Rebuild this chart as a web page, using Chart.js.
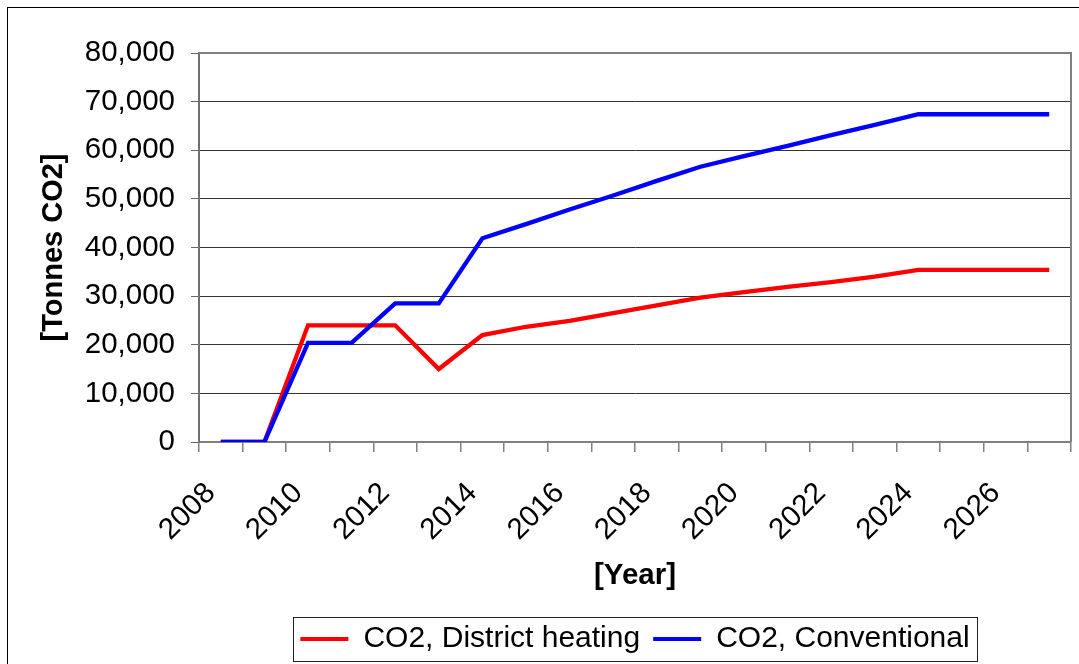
<!DOCTYPE html>
<html>
<head>
<meta charset="utf-8">
<script src="https://cdn.jsdelivr.net/npm/chart.js@4.4.1/dist/chart.umd.min.js"></script>
<style>
  html, body { margin: 0; padding: 0; background: #fff; }
  canvas { display: block; }
</style>
</head>
<body>
<canvas id="co2Chart" width="1079" height="664"></canvas>
<script>
// values (tonnes CO2 per year)
const years = ["2008", "2009", "2010", "2011", "2012", "2013", "2014", "2015", "2016", "2017",
  "2018", "2019", "2020", "2021", "2022", "2023", "2024", "2025", "2026", "2027"];
const districtHeating = [0, 0, 24000, 24000, 24000, 15000, 22000, 23700, 24900, 26500,
  28100, 29700, 30800, 31900, 32900, 34000, 35400, 35400, 35400, 35400];
const conventional = [0, 0, 20400, 20400, 28500, 28500, 41900, 44800, 47800, 50700,
  53700, 56600, 58800, 60900, 63100, 65200, 67400, 67400, 67400, 67400];
const yTicks = [0, 10000, 20000, 30000, 40000, 50000, 60000, 70000, 80000];

Chart.defaults.font.family = "'Liberation Sans', Arial, sans-serif";
Chart.defaults.font.size = 29.5;
Chart.defaults.color = "#000";

// frame of the chart, plot area border and the box round the legend
const framePlugin = {
  id: "frame",
  afterLayout(chart) {
    // centre the legend under the plot area like Excel does
    const legend = chart.legend;
    legend.left = chart.chartArea.left;
    legend.right = chart.chartArea.right;
  },
  beforeDraw(chart) {
    const ctx = chart.ctx;
    ctx.save();
    ctx.strokeStyle = "#000";
    ctx.lineWidth = 1;
    ctx.strokeRect(7.5, 7.5, 1200, 800);
    ctx.restore();
  },
  afterDraw(chart) {
    const { ctx, chartArea } = chart;
    ctx.save();
    ctx.strokeStyle = "#808080";
    ctx.lineWidth = 2;
    ctx.beginPath();
    ctx.moveTo(chartArea.left, chartArea.top);
    ctx.lineTo(chartArea.right, chartArea.top);
    ctx.lineTo(chartArea.right, chartArea.bottom);
    ctx.stroke();

    const boxes = chart.legend.legendHitBoxes;
    if (boxes && boxes.length) {
      const first = boxes[0];
      const last = boxes[boxes.length - 1];
      const x0 = Math.round(first.left - 7) + 0.5;
      const x1 = Math.round(last.left + last.width + 7) + 0.5;
      const y0 = Math.round(first.top - 7.5) + 0.5;
      const y1 = Math.round(first.top + first.height + 7) + 0.5;
      ctx.strokeStyle = "#222";
      ctx.lineWidth = 1;
      ctx.strokeRect(x0, y0, x1 - x0, y1 - y0);
    }
    ctx.restore();
  },
};

const ctx = document.getElementById("co2Chart").getContext("2d");
new Chart(ctx, {
  type: "line",
  data: {
    labels: years,
    datasets: [
      {
        label: "CO2, District heating",
        data: districtHeating,
        borderColor: "#ff0000",
        backgroundColor: "#ff0000",
        borderWidth: 4.3,
        pointRadius: 0,
        tension: 0,
        order: 1,
      },
      {
        label: "CO2, Conventional",
        data: conventional,
        borderColor: "#0000ff",
        backgroundColor: "#0000ff",
        borderWidth: 4.3,
        pointRadius: 0,
        tension: 0,
        order: 0,
      },
    ],
  },
  options: {
    responsive: false,
    animation: false,
    devicePixelRatio: 1,
    layout: {
      padding: { top: 53, right: 8, bottom: 0, left: 0 },
    },
    plugins: {
      tooltip: { enabled: false },
      legend: {
        position: "bottom",
        labels: {
          boxWidth: 48,
          boxHeight: 4,
          padding: 13,
          font: { size: 30 },
          sort: (a, b) => a.datasetIndex - b.datasetIndex,
          generateLabels: (chart) =>
            Chart.defaults.plugins.legend.labels
              .generateLabels(chart)
              .map((item) => ({ ...item, lineWidth: 0 })),
        },
      },
    },
    scales: {
      x: {
        type: "category",
        offset: true,
        grid: {
          offset: true,
          drawOnChartArea: false,
          drawTicks: true,
          tickLength: 10,
          color: "#808080",
          lineWidth: 1.5,
        },
        border: { color: "#808080", width: 2 },
        ticks: {
          autoSkip: false,
          minRotation: 45,
          maxRotation: 45,
          padding: 24,
          labelOffset: -10,
          callback: (value, index) => (index % 2 === 0 ? years[index] : ""),
        },
        title: {
          display: true,
          text: "[Year]",
          font: { size: 29.5, weight: "bold" },
          padding: { top: 0, bottom: 17 },
        },
        afterFit: (scale) => {
          scale.height = 169;
          scale.paddingLeft = 0;
          scale.paddingRight = 0;
        },
      },
      y: {
        min: 0,
        max: 80000,
        afterBuildTicks: (scale) => {
          scale.ticks = yTicks.map((v) => ({ value: v }));
        },
        grid: {
          color: "#333",
          lineWidth: 1,
          tickLength: 8,
          tickColor: "#666",
        },
        border: { color: "#707070", width: 2 },
        ticks: {
          padding: 16,
          callback: (value) => value.toLocaleString("en-US"),
        },
        title: {
          display: true,
          text: "[Tonnes CO2]",
          font: { size: 29, weight: "bold" },
          padding: { top: 37, bottom: 0 },
        },
        afterFit: (scale) => {
          scale.width = 199;
          scale.paddingTop = 0;
          scale.paddingBottom = 0;
        },
      },
    },
  },
  plugins: [framePlugin],
});
</script>
</body>
</html>
